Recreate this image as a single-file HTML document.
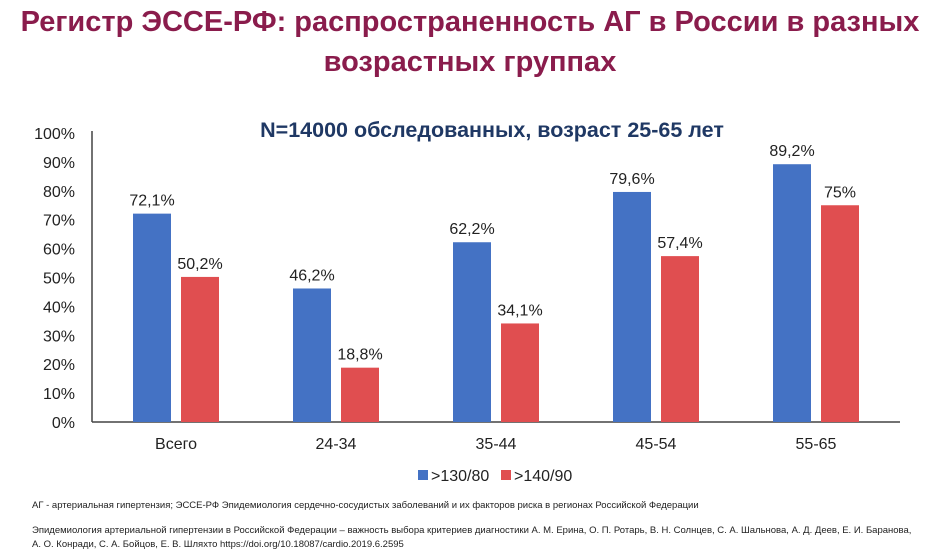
<!DOCTYPE html>
<html><head><meta charset="utf-8"><style>
body{margin:0;width:940px;height:551px;background:#fff;overflow:hidden;font-family:"Liberation Sans",sans-serif;position:relative}
.t{position:absolute;left:0;width:940px;text-align:center;color:#8a1c4c;font-weight:bold;font-size:29px;line-height:40px}
.f{position:absolute;left:32px;font-size:9.5px;color:#222;line-height:14px}
</style></head><body>
<div class="t" style="top:2px">Регистр ЭССЕ-РФ: распространенность АГ в России в разных<br>возрастных группах</div>
<svg id="c" width="940" height="551" style="position:absolute;left:0;top:0"></svg>
<div class="f" style="top:499px">АГ - артериальная гипертензия; ЭССЕ-РФ Эпидемиология сердечно-сосудистых заболеваний и их факторов риска в регионах Российской Федерации</div>
<div class="f" style="top:524px">Эпидемиология артериальной гипертензии в Российской Федерации – важность выбора критериев диагностики А. М. Ерина, О. П. Ротарь, В. Н. Солнцев, С. А. Шальнова, А. Д. Деев, Е. И. Баранова,<br>А. О. Конради, С. А. Бойцов, Е. В. Шляхто https://doi.org/10.18087/cardio.2019.6.2595</div>
<script>
const categories=["Всего","24-34","35-44","45-54","55-65"];
const s130=[72.1,46.2,62.2,79.6,89.2];
const s140=[50.2,18.8,34.1,57.4,75];
const lab130=["72,1%","46,2%","62,2%","79,6%","89,2%"];
const lab140=["50,2%","18,8%","34,1%","57,4%","75%"];
const yTicks=[0,10,20,30,40,50,60,70,80,90,100];
const NS="http://www.w3.org/2000/svg",svg=document.getElementById('c');
const y0=422,yTop=133,xL=96,gw=160;
const y=v=>y0-(y0-yTop)*v/100;
const gx=i=>xL+i*gw;
function el(t,a,txt){const e=document.createElementNS(NS,t);for(const k in a)e.setAttribute(k,a[k]);if(txt!=null)e.textContent=txt;svg.appendChild(e);return e;}
const st=el('text',{x:492,y:137,'text-anchor':'middle','font-size':21.5,'font-weight':'bold',fill:'#1f3864'},'N=14000 обследованных, возраст 25-65 лет');


yTicks.forEach(v=>{const t=el('text',{x:75,y:y(v)+6,'text-anchor':'end','font-size':16,fill:'#222'},v+'%');

});
const ax=el('line',{x1:92,y1:yTop-2,x2:92,y2:y0,stroke:'#444','stroke-width':1.5});


const bx=el('line',{x1:92,y1:y0,x2:900,y2:y0,stroke:'#444','stroke-width':1.5});


categories.forEach((c,i)=>{
 const x=gx(i);
 const b1=el('rect',{x:x+37,y:y(s130[i]),width:38,height:y0-y(s130[i]),fill:'#4472c4'});
 
 
 const b2=el('rect',{x:x+85,y:y(s140[i]),width:38,height:y0-y(s140[i]),fill:'#e04e50'});
 
 
 const l1=el('text',{x:x+56,y:y(s130[i])-8,'text-anchor':'middle','font-size':16,fill:'#222'},lab130[i]);
 
 
 const l2=el('text',{x:x+104,y:y(s140[i])-8,'text-anchor':'middle','font-size':16,fill:'#222'},lab140[i]);
 
 
 const cl=el('text',{x:x+80,y:449,'text-anchor':'middle','font-size':16,fill:'#222'},c);
 
 
});
const r1=el('rect',{x:418,y:470,width:10,height:10,fill:'#4472c4'});


const t1=el('text',{x:431,y:481,'font-size':16,fill:'#222'},'>130/80');


const r2=el('rect',{x:501,y:470,width:10,height:10,fill:'#e04e50'});


const t2=el('text',{x:514,y:481,'font-size':16,fill:'#222'},'>140/90');


</script>
</body></html>
